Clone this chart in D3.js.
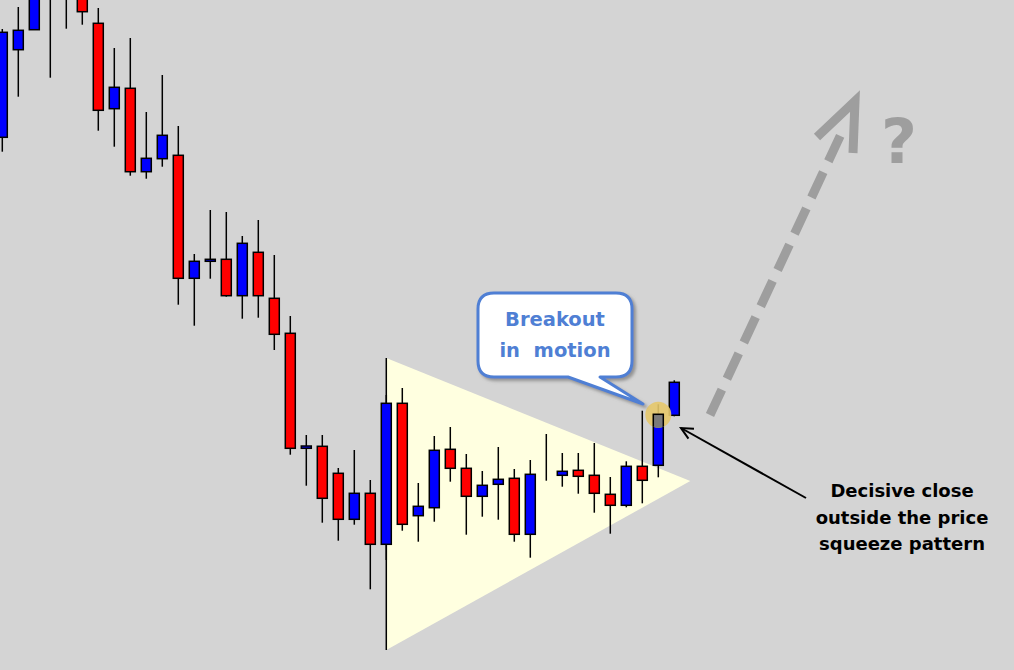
<!DOCTYPE html>
<html><head><meta charset="utf-8">
<script src="https://cdn.jsdelivr.net/npm/d3@7"></script>
<style>html,body{margin:0;padding:0;background:#d4d4d4;overflow:hidden}</style>
</head><body><svg id="chart" width="1014" height="670"></svg>
<script>
// ---- Data (price units, arbitrary scale; higher = higher price) ----
const candleIndex = d3.range(43);
const open  = [532.7,620.3,640.3,700,695,680,646.7,561.3,581.7,498.3,511.3,514.7,391.7,408.7,410.7,374.3,417.7,371.7,336.7,221.7,223.7,196.7,150.7,176.7,125.7,266.7,154.3,162.3,220.7,201.7,173.7,185.7,191.7,135.7,195.7,194.7,199.7,194.7,175.7,164.7,203.7,204.7,254.7];
const high  = [641,663,700,710,710,690,662,622,632,558,595,544,416,460,458,434,450,415,354,235,235,202,220,190,275,282,187,234,243,216,199,223,201,210,236,217,217,227,193,208.7,259.3,265.7,289.7];
const low   = [518.3,573.3,640.3,592.3,641.3,645.3,539.3,523.3,494.3,491.3,503.3,365.3,344.3,391.3,373.3,351.3,352.3,320,215.3,184.3,147.3,129.3,145.3,80.7,110,139.3,128.3,148.3,188.3,135.3,153.3,150.3,128.3,112.3,189.3,183.3,176.3,157.3,136.3,162.7,166.7,192.7,253.7];
const close = [637.7,639.7,690,675,673,658.3,559.7,582.7,498.3,511.7,534.7,391.7,408.7,410.7,374.3,426.7,374.3,335.7,221.7,224,171.7,150.7,176.7,125.7,266.7,145.7,163.7,219.7,201.7,173.7,184.7,190.7,135.7,195.7,195.7,198.7,193.7,176.7,164.7,203.7,189.7,255.7,287.7];

// Squeeze pattern triangle (candle index, price)
const triIndex = [24, 24, 43];
const triPrice = [312, 20, 189];
const breakoutCandle = 41;

const bubbleLines = ["Breakout", "in  motion"];
const noteLines = ["Decisive close", "outside the price", "squeeze pattern"];

// ---- Scales ----
const W = 1014, H = 670;
const x = d3.scaleLinear().domain([0, 62]).range([2.3, 994.3]);
const y = d3.scaleLinear().domain([0, 670]).range([670, 0]);
const bodyW = 10;

const svg = d3.select("#chart");
const defs = svg.append("defs");
const sh = defs.append("filter").attr("id","shadow").attr("x","-20%").attr("y","-20%").attr("width","140%").attr("height","140%");
sh.append("feDropShadow").attr("dx",2.5).attr("dy",2.5).attr("stdDeviation",1.5).attr("flood-color","#8a8a8a").attr("flood-opacity",0.9);

svg.append("rect").attr("width",W).attr("height",H).attr("fill","#d4d4d4");

// triangle
const triPts = triIndex.map((d,k)=>[x(d), y(triPrice[k])]);
svg.append("path").attr("d", d3.line()(triPts) + "Z").attr("fill","#ffffe0");
svg.append("line").attr("x1",triPts[0][0]).attr("x2",triPts[1][0]).attr("y1",triPts[0][1]).attr("y2",triPts[1][1])
  .attr("stroke","#000").attr("stroke-width",1.5);

// candles
const data = candleIndex.map(i => ({i, o:open[i], h:high[i], l:low[i], c:close[i]}));
const g = svg.append("g");
g.selectAll("line.wick").data(data).join("line").attr("class","wick")
  .attr("x1",d=>x(d.i)).attr("x2",d=>x(d.i)).attr("y1",d=>y(d.h)).attr("y2",d=>y(d.l))
  .attr("stroke","#000").attr("stroke-width",1.5);
g.selectAll("rect.body").data(data).join("rect").attr("class","body")
  .attr("x",d=>x(d.i)-bodyW/2).attr("width",bodyW)
  .attr("y",d=>y(Math.max(d.o,d.c))).attr("height",d=>Math.abs(y(d.o)-y(d.c)))
  .attr("fill",d=>d.c>d.o?"#0000ff":(d.c<d.o?"#ff0000":"#000"))
  .attr("stroke","#000").attr("stroke-width",1.5);

// highlight circle at breakout close
const bc = data[breakoutCandle];
const cx = x(bc.i), cy = y(bc.c) + 0.5, cr = 13;
defs.append("clipPath").attr("id","circClip").append("circle").attr("cx",cx).attr("cy",cy).attr("r",cr);
svg.append("circle").attr("cx",cx).attr("cy",cy).attr("r",cr).attr("fill","#e6c86a").attr("opacity",0.9);
svg.append("rect").attr("clip-path","url(#circClip)")
  .attr("x",x(bc.i)-bodyW/2).attr("width",bodyW)
  .attr("y",y(Math.max(bc.o,bc.c))).attr("height",Math.abs(y(bc.o)-y(bc.c)))
  .attr("fill","#7a7a7a").attr("stroke","#000").attr("stroke-width",1.5);

// speech bubble
const L=478, T=293, R=632, B=377, r=16, t1=568, t2=600, tipX=643, tipY=404;
const bp = `M${L+r},${T} H${R-r} Q${R},${T} ${R},${T+r} V${B-r} Q${R},${B} ${R-r},${B} H${t2} L${tipX},${tipY} L${t1},${B} H${L+r} Q${L},${B} ${L},${B-r} V${T+r} Q${L},${T} ${L+r},${T} Z`;
svg.append("path").attr("d",bp).attr("fill","#fff").attr("stroke","#4f7fd4").attr("stroke-width",3)
  .attr("stroke-linejoin","round").attr("filter","url(#shadow)");
svg.append("g").selectAll("text").data(bubbleLines).join("text")
  .attr("x",555).attr("y",(d,k)=>326+k*31).attr("text-anchor","middle")
  .style("white-space","pre")
  .attr("font-family","'DejaVu Sans', Verdana, sans-serif").attr("font-weight","bold").attr("font-size",19.5)
  .attr("fill","#4f7fd4").text(d=>d);

// black pointer arrow
const ax1=806, ay1=498, ax2=681, ay2=428;
const ang = Math.atan2(ay1-ay2, ax1-ax2), al=13, aw=0.45;
svg.append("line").attr("x1",ax1).attr("y1",ay1).attr("x2",ax2).attr("y2",ay2).attr("stroke","#000").attr("stroke-width",2);
svg.append("path").attr("d",`M${ax2+al*Math.cos(ang+aw)},${ay2+al*Math.sin(ang+aw)} L${ax2},${ay2} L${ax2+al*Math.cos(ang-aw)},${ay2+al*Math.sin(ang-aw)}`)
  .attr("fill","none").attr("stroke","#000").attr("stroke-width",2);

svg.append("g").selectAll("text").data(noteLines).join("text")
  .attr("x",902).attr("y",(d,k)=>497+k*26.7).attr("text-anchor","middle")
  .attr("font-family","'DejaVu Sans', Verdana, sans-serif").attr("font-weight","bold").attr("font-size",18)
  .attr("fill","#000").text(d=>d);

// dashed projection arrow
svg.append("line").attr("x1",710).attr("y1",415).attr("x2",842).attr("y2",132)
  .attr("stroke","#9e9e9e").attr("stroke-width",9).attr("stroke-dasharray","28,12");
svg.append("path").attr("d","M817,137 L855,101 L853,153").attr("fill","none")
  .attr("stroke","#9e9e9e").attr("stroke-width",9).attr("stroke-linejoin","miter");
svg.append("text").attr("x",899).attr("y",163).attr("text-anchor","middle")
  .attr("font-family","'DejaVu Sans', Verdana, sans-serif").attr("font-weight","bold").attr("font-size",62)
  .attr("fill","#9e9e9e").text("?");
</script></body></html>
